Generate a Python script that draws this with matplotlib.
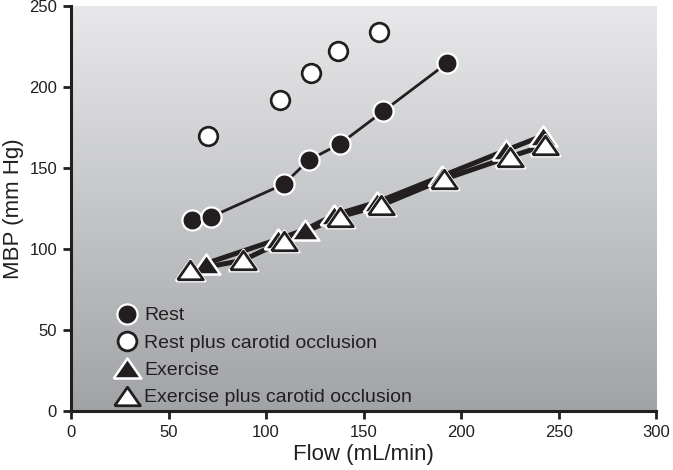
import numpy as np
import matplotlib.pyplot as plt
from matplotlib.lines import Line2D

plt.rcParams['font.family'] = ['Liberation Sans', 'DejaVu Sans']

# Data
rest_x = [62, 72, 109, 122, 138, 160, 193]
rest_y = [118, 120, 140, 155, 165, 185, 215]

rest_occ_x = [70, 107, 123, 137, 158]
rest_occ_y = [170, 192, 209, 222, 234]

ex_x = [69, 106, 120, 135, 157, 190, 223, 242]
ex_y = [91, 106, 112, 121, 129, 145, 161, 170]

ex_occ_x = [61, 88, 109, 138, 159, 191, 225, 243]
ex_occ_y = [87, 93, 105, 120, 127, 143, 157, 164]

labels = ['Rest', 'Rest plus carotid occlusion', 'Exercise', 'Exercise plus carotid occlusion']

dark = '#231f20'
# wide flat triangle marker
tri = [(-1, -0.72), (1, -0.72), (0, 0.72), (-1, -0.72)]

fig = plt.figure(figsize=(6.73, 4.70), dpi=100)
ax = fig.add_axes([0.1055, 0.1255, 0.8695, 0.8615])

# gray gradient background
grad = np.linspace(0, 1, 256).reshape(-1, 1)
top = np.array([0.91, 0.91, 0.92])
bot = np.array([0.63, 0.64, 0.65])
img = top + (bot - top) * grad[:, :, None]
ax.imshow(img, extent=[0, 300, 0, 250], aspect='auto', zorder=0, origin='upper')

# lines
ax.plot(rest_x, rest_y, color=dark, lw=2.0, zorder=2)
ax.plot(ex_x, ex_y, color=dark, lw=3.6, zorder=2)
ax.plot(ex_occ_x, ex_occ_y, color=dark, lw=3.6, zorder=2)

# markers
ax.plot(rest_x, rest_y, 'o', ms=14.5, mfc=dark, mec='white', mew=1.6, zorder=4)
ax.plot(rest_occ_x, rest_occ_y, 'o', ms=15, mfc='white', mec='white', mew=1, zorder=3)
ax.plot(rest_occ_x, rest_occ_y, 'o', ms=13.5, mfc='white', mec=dark, mew=2, zorder=4)
ax.plot(ex_x, ex_y, ls='none', marker=tri, ms=20, mfc=dark, mec='white', mew=1.8, zorder=4)
ax.plot(ex_occ_x, ex_occ_y, ls='none', marker=tri, ms=21, mfc='white', mec='white', mew=2, zorder=5)
ax.plot(ex_occ_x, ex_occ_y, ls='none', marker=tri, ms=18.5, mfc='white', mec=dark, mew=2, zorder=5)

ax.set_xlim(0, 300)
ax.set_ylim(0, 250)
ax.set_xticks([0, 50, 100, 150, 200, 250, 300])
ax.set_yticks([0, 50, 100, 150, 200, 250])
ax.tick_params(direction='out', length=6, width=2, color=dark, labelsize=12, labelcolor=dark, pad=4)
for s in ['top', 'right']:
    ax.spines[s].set_visible(False)
for s in ['left', 'bottom']:
    ax.spines[s].set_linewidth(2.2)
    ax.spines[s].set_color(dark)
    ax.spines[s].set_zorder(6)

ax.set_xlabel('Flow (mL/min)', fontsize=16, color=dark, labelpad=3)
ax.set_ylabel('MBP (mm Hg)', fontsize=16, color=dark, labelpad=4)

handles = [
    Line2D([], [], ls='none', marker='o', ms=14.5, mfc=dark, mec='white', mew=1.6),
    Line2D([], [], ls='none', marker='o', ms=13.5, mfc='white', mec=dark, mew=2),
    Line2D([], [], ls='none', marker=tri, ms=20, mfc=dark, mec='white', mew=1.8),
    Line2D([], [], ls='none', marker=tri, ms=18.5, mfc='white', mec=dark, mew=2),
]
leg = ax.legend(handles, labels, loc='lower left', bbox_to_anchor=(0.065, -0.008), frameon=False,
                fontsize=14, handlelength=1.0, handletextpad=0.4, labelspacing=0.5, borderaxespad=0)
for t in leg.get_texts():
    t.set_color(dark)

fig.savefig('out.png', dpi=100)
